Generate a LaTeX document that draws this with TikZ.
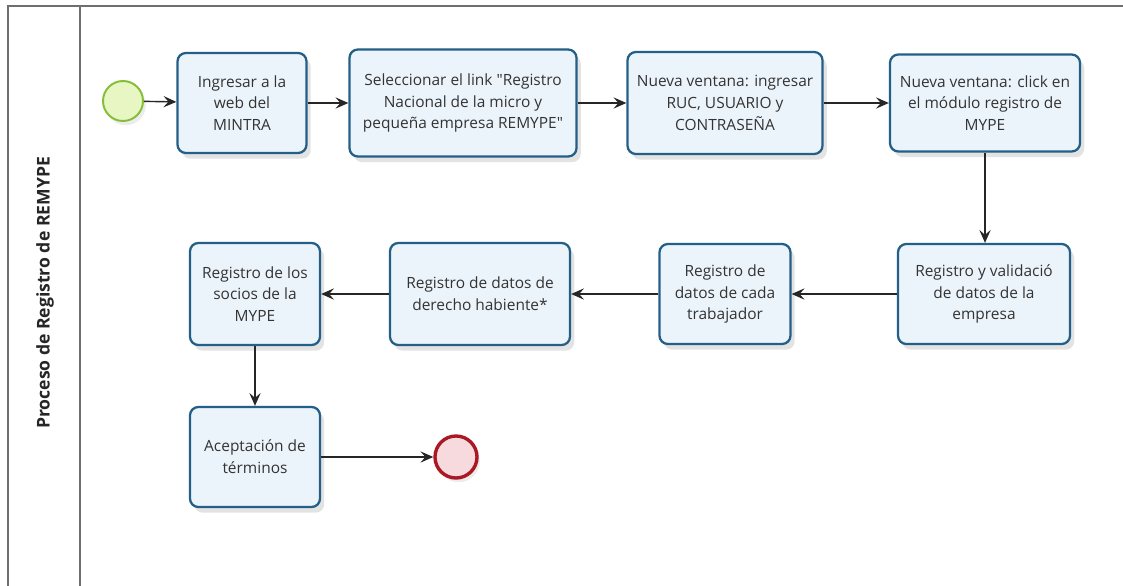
\documentclass[tikz,border=0pt]{standalone}
\usepackage{fontspec}
\setmainfont{Open Sans}
\usetikzlibrary{positioning,calc}
\usetikzlibrary{arrows.meta,shadows}
\definecolor{TaskBlue}{RGB}{35,95,135}
\definecolor{TaskFill}{RGB}{236,244,251}
\definecolor{StartGreen}{RGB}{135,190,55}
\definecolor{StartFill}{RGB}{232,246,196}
\definecolor{EndRed}{RGB}{170,25,35}
\definecolor{EndFill}{RGB}{246,218,222}
\definecolor{PoolGray}{RGB}{110,110,110}
\tikzset{
  task/.style={draw=TaskBlue,fill=TaskFill,rounded corners=6pt,line width=1.6pt,
    align=center,font=\fontsize{11}{15.5}\selectfont,text=black!80,inner sep=2pt,
    minimum height=2.5cm,
    drop shadow={opacity=0.22,shadow xshift=3pt,shadow yshift=-4pt}},
  startev/.style={circle,draw=StartGreen,fill=StartFill,line width=1.4pt,minimum size=1cm,
    drop shadow={opacity=0.15,shadow xshift=2pt,shadow yshift=-3pt}},
  endev/.style={circle,draw=EndRed,fill=EndFill,line width=2.4pt,minimum size=1.05cm,
    drop shadow={opacity=0.15,shadow xshift=2pt,shadow yshift=-3pt}},
  flow/.style={draw=black!85,line width=1pt,-{Stealth[length=3.2mm,width=2.8mm,inset=1.2mm]}},
  pool/.style={draw=PoolGray,line width=1.4pt},
}
\begin{document}
\begin{tikzpicture}[x=0.025cm,y=-0.025cm]
\useasboundingbox[fill=white] (0,0) rectangle (1123,585);
% pool and lane
\draw[pool] (8,590) -- (8,6) -- (1130,6);
\draw[pool] (80,6) -- (80,590);
\node[rotate=90,font=\fontsize{12.5}{14}\selectfont\bfseries,text=black!85] (lane) at (45,293) {Proceso de Registro de REMYPE};
% events and tasks
\node[startev] (start) at (123,101) {};
\node[task,minimum width=3.225cm] (web) at (242,103) {Ingresar a la\\web del\\MINTRA};
\node[task,minimum width=5.675cm,minimum height=2.675cm] (link) at (463,103) {Seleccionar el link \textquotedbl Registro\\Nacional de la micro y\\pequeña empresa REMYPE\textquotedbl};
\node[task,minimum width=4.875cm,minimum height=2.55cm] (login) at (725,103) {Nueva ventana: ingresar\\RUC, USUARIO y\\CONTRASEÑA};
\node[task,minimum width=4.75cm,minimum height=2.425cm] (modulo) at (985,103) {Nueva ventana: click en\\el módulo registro de\\MYPE};
\node[task,minimum width=4.3cm] (empresa) at (984,294) {Registro y validació\\de datos de la\\empresa};
\node[task,minimum width=3.275cm] (trab) at (725,294) {Registro de\\datos de cada\\trabajador};
\node[task,minimum width=4.5cm,minimum height=2.55cm] (habiente) at (480,294) {Registro de datos de\\derecho habiente*};
\node[task,minimum width=3.25cm,minimum height=2.55cm] (socios) at (255,294) {Registro de los\\socios de la\\MYPE};
\node[task,minimum width=3.25cm] (terminos) at (255,457) {Aceptación de\\términos};
\node[endev] (fin) at (456,457) {};
% flows
\draw[flow] (start) -- (web);
\draw[flow] (web) -- (link);
\draw[flow] (link) -- (login);
\draw[flow] (login) -- (modulo);
\draw[flow] (modulo) -- (empresa.north -| modulo);
\draw[flow] (empresa) -- (trab);
\draw[flow] (trab) -- (habiente);
\draw[flow] (habiente) -- (socios);
\draw[flow] (socios) -- (terminos);
\draw[flow] (terminos) -- (fin);
\end{tikzpicture}
\end{document}
